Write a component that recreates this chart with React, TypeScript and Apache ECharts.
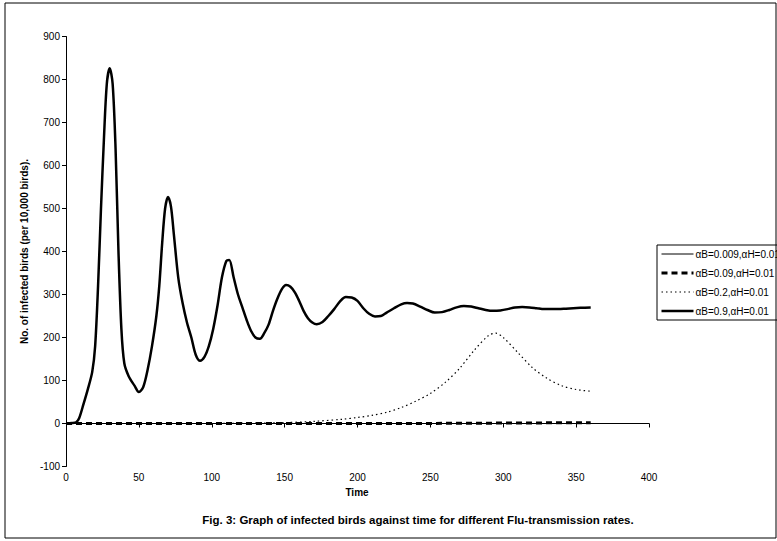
import React, { useEffect, useRef } from "react";
import * as echarts from "echarts";

const seriesNames = [
  "αB=0.009,αH=0.01",
  "αB=0.09,αH=0.01",
  "αB=0.2,αH=0.01",
  "αB=0.9,αH=0.01",
];

const t1 = [0, 60, 120, 180, 240, 300, 360];
const v1 = [0, 0, 0, 0, 0, 0, 0];

const t2 = [0, 60, 120, 180, 240, 300, 360];
const v2 = [0, 0, 0, 0, 0, 1, 2];

const t3 = [0, 100, 150, 170, 190, 200, 210, 220, 230, 240, 250, 260, 270, 280, 290, 295, 300, 310, 320, 330, 340, 350, 360];
const v3 = [0, 0, 2, 5, 10, 14, 19, 26, 37, 52, 70, 95, 128, 170, 205, 210, 200, 165, 130, 105, 88, 79, 75];

const t4 = [0, 4, 7, 9, 12, 15, 18, 20, 22, 24, 26, 28, 30, 32, 34, 36, 38, 40, 43, 47, 50, 53, 56, 59, 62, 64, 66, 68, 70, 72, 74, 77, 80, 83, 86, 89, 92, 95, 98, 101, 104, 107, 110, 112, 115, 118, 121, 124, 127, 130, 133, 136, 139, 142, 145, 148, 151, 154, 157, 160, 163, 166, 169, 172, 176, 180, 184, 188, 192, 196, 200, 204, 208, 212, 216, 220, 225, 230, 234, 238, 243, 248, 253, 258, 263, 268, 273, 278, 283, 288, 293, 298, 303, 308, 313, 318, 323, 328, 333, 338, 343, 348, 353, 360];
const v4 = [0, 1, 3, 12, 45, 80, 120, 180, 320, 500, 660, 790, 826, 790, 640, 400, 220, 140, 110, 88, 73, 85, 125, 180, 250, 320, 420, 500, 527, 505, 440, 340, 280, 235, 200, 160, 146, 155, 180, 220, 275, 340, 378, 380, 340, 300, 270, 240, 215, 200, 197, 210, 230, 262, 290, 312, 322, 318, 305, 285, 262, 245, 235, 231, 236, 250, 266, 284, 294, 293, 285, 268, 255, 249, 250, 258, 268, 277, 280, 279, 272, 264, 258, 259, 264, 270, 273, 272, 268, 264, 262, 263, 266, 270, 271, 270, 268, 266, 266, 266, 267, 268, 269, 270];

const xTicks = { min: 0, max: 400, interval: 50 };
const yTicks = { min: -100, max: 900, interval: 100 };

const pairs = (t: number[], v: number[]) => t.map((x, i) => [x, v[i]]);

export default function App() {
  const ref = useRef<HTMLDivElement>(null);
  useEffect(() => {
    if (!ref.current) return;
    const chart = echarts.init(ref.current, null, { renderer: "svg" });
    const font = "Liberation Sans, Arial, sans-serif";
    const lineStyles: any[] = [
      { color: "#000", width: 1, type: "solid" },
      { color: "#000", width: 3, type: [6, 4] },
      { color: "#000", width: 1.2, type: [1.5, 3] },
      { color: "#000", width: 2.5, type: "solid" },
    ];
    chart.setOption({
      animation: false,
      backgroundColor: "#fff",
      textStyle: { fontFamily: font },
      grid: { left: 66, right: 128, top: 36.5, bottom: 74.5, containLabel: false },
      legend: {
        orient: "vertical",
        left: 657,
        top: 245,
        itemWidth: 32,
        itemHeight: 8,
        itemGap: 9,
        padding: [4, 4, 4, 3],
        borderColor: "#000",
        borderWidth: 1,
        itemStyle: { opacity: 0 },
        textStyle: { fontSize: 10, color: "#000", fontFamily: font, padding: [0, 0, 0, -3] },
        data: seriesNames.map((n, i) => ({ name: n, lineStyle: { width: lineStyles[i].width } })),
      },
      xAxis: {
        type: "value",
        min: xTicks.min,
        max: xTicks.max,
        interval: xTicks.interval,
        axisLine: { onZero: true, lineStyle: { color: "#000", width: 1 } },
        axisTick: { show: true, length: 4, lineStyle: { color: "#000" } },
        axisLabel: { fontSize: 10, color: "#000", fontFamily: font, margin: 6 },
        splitLine: { show: false },
      },
      yAxis: {
        type: "value",
        min: yTicks.min,
        max: yTicks.max,
        interval: yTicks.interval,
        name: "No. of infected birds (per 10,000 birds).",
        nameLocation: "middle",
        nameRotate: 90,
        nameGap: 36,
        nameTextStyle: { fontSize: 10, fontWeight: "bold", color: "#000", fontFamily: font },
        axisLine: { show: true, lineStyle: { color: "#000", width: 1 } },
        axisTick: { show: true, length: 4, lineStyle: { color: "#000" } },
        axisLabel: { fontSize: 10, color: "#000", fontFamily: font, margin: 6 },
        splitLine: { show: false },
      },
      graphic: [
        {
          type: "rect",
          shape: { x: 5, y: 3, width: 771, height: 535 },
          style: { fill: "none", stroke: "#000", lineWidth: 1 },
          silent: true,
          z: -1,
        },
        {
          type: "text",
          x: 357,
          y: 492,
          style: { text: "Time", fontSize: 10, fontWeight: "bold", fill: "#000", fontFamily: font, textAlign: "center", textVerticalAlign: "middle" },
        },
        {
          type: "text",
          x: 418,
          y: 520,
          style: {
            text: "Fig. 3: Graph of infected birds against time for different Flu-transmission rates.",
            fontSize: 11.5,
            fontWeight: "bold",
            fill: "#000",
            fontFamily: font,
            textAlign: "center",
            textVerticalAlign: "middle",
          },
        },
      ],
      series: [
        {
          name: seriesNames[0],
          type: "line",
          data: pairs(t1, v1),
          symbol: "none",
          lineStyle: lineStyles[0],
          itemStyle: { color: "#000" },
          z: 3,
        },
        {
          name: seriesNames[1],
          type: "line",
          data: pairs(t2, v2),
          symbol: "none",
          lineStyle: lineStyles[1],
          itemStyle: { color: "#000" },
          z: 4,
        },
        {
          name: seriesNames[2],
          type: "line",
          data: pairs(t3, v3),
          symbol: "none",
          smooth: 0.3,
          lineStyle: lineStyles[2],
          itemStyle: { color: "#000" },
          z: 5,
        },
        {
          name: seriesNames[3],
          type: "line",
          data: pairs(t4, v4),
          symbol: "none",
          smooth: 0.3,
          lineStyle: lineStyles[3],
          itemStyle: { color: "#000" },
          z: 6,
        },
      ],
    });
    return () => chart.dispose();
  }, []);
  return (
    <div
      ref={ref}
      style={{ position: "fixed", left: 0, top: 0, width: 777, height: 541 }}
    />
  );
}
